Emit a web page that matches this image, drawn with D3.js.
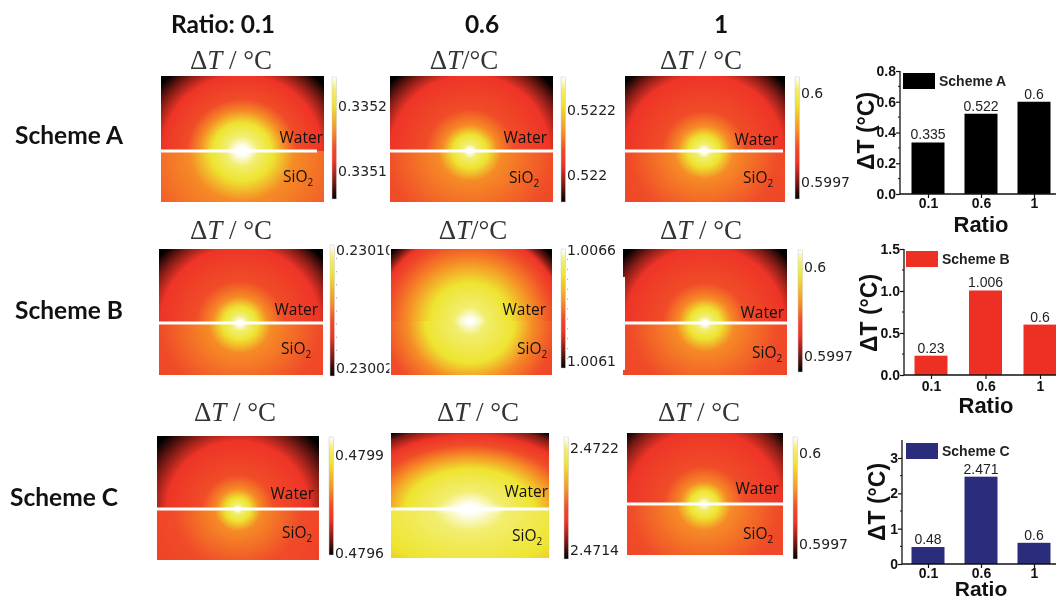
<!DOCTYPE html>
<html><head><meta charset="utf-8">
<script src="https://cdn.jsdelivr.net/npm/d3@7/dist/d3.min.js"></script>
<style>html,body{margin:0;padding:0;background:#fff;overflow:hidden}svg{display:block;filter:blur(0.35px)}</style>
</head><body><div id="c"></div>
<script>
// ---- data ----
const ratios = ["0.1","0.6","1"];
const schemes = ["Scheme A","Scheme B","Scheme C"];
const valuesA = [0.335,0.522,0.6];
const valuesB = [0.23,1.006,0.6];
const valuesC = [0.48,2.471,0.6];
const labelsA = ["0.335","0.522","0.6"];
const labelsB = ["0.23","1.006","0.6"];
const labelsC = ["0.48","2.471","0.6"];
const ticksA = ["0.0","0.2","0.4","0.6","0.8"];
const ticksB = ["0.0","0.5","1.0","1.5"];
const ticksC = ["0","1","2","3"];
const barColors = ["#000000","#ee3024","#2b2c7c"];
const cbarTicks = [
 ["0.3352","0.3351"],["0.5222","0.522"],["0.6","0.5997"],
 ["0.23010","0.23002"],["1.0066","1.0061"],["0.6","0.5997"],
 ["0.4799","0.4796"],["2.4722","2.4714"],["0.6","0.5997"]];
const titles = ["ΔT / °C","ΔT/°C","ΔT / °C","ΔT / °C","ΔT/°C","ΔT / °C","ΔT / °C","ΔT / °C","ΔT / °C"];
// colour ramp of the heat maps, low to high
const heatLevels = [0,0.14,0.3,0.42,0.55,0.78,0.9,1];
const heatColors = ["#000000","#7a1a14","#ee3427","#f04c28","#f68b26","#eee430","#f2ee70","#ffffff"];
// isotherm radius (in px) of each heat level, per panel, water / SiO2 side
const waterRadii = [
 [102,90,76,52,40,28,15,4],[102,90,76,42,26,16,7,2],[102,90,76,40,25,15,7,2],
 [102,90,76,42,26,16,8,2],[102,94,88,78,60,38,14,2],[102,90,76,40,25,15,7,2],
 [100,84,68,34,20,11,5,1],[90,84,74,64,54,40,18,4],[102,90,74,38,22,13,6,1]];
const silicaRadii = [
 [300,240,170,110,50,30,15,4],[300,240,150,80,30,17,7,2],[300,240,150,70,28,16,7,2],
 [300,240,140,75,30,17,8,2],[300,240,130,82,60,42,14,2],[300,240,150,70,28,16,7,2],
 [300,240,130,60,22,12,5,1],[300,240,200,130,95,60,22,4],[300,240,150,70,26,14,6,1]];
const hotStretch = [1.05,1.05,1.05, 1.05,1.05,1.05, 1.05,1.6,1.05];
// elongated white core size, per panel
const coreRx = [12,0,0,0,15,0,0,34,0];
const coreRy = [2.5,0,0,0,1.5,0,0,2.5,0];
// number of small dots beside each colour bar
const cbarDots = [0,0,0,9,11,0,0,0,0];

// ---- layout ----
const W=1056,H=599;
const panels = [
 {x:161,y:76,w:163,h:126,line:151,cx:242,lineEnd:317,bx:332,by:77,bh:122,t1:106,t2:171,tx:231,ty:60,wx:323,wy:143,sx:283,sy:182},
 {x:390,y:76,w:163,h:126,line:151,cx:470,lineEnd:553,bx:561,by:77,bh:125,t1:110,t2:175,tx:464,ty:60,wx:547,wy:143,sx:509,sy:183},
 {x:625,y:76,w:160,h:126,line:151,cx:704,lineEnd:783,bx:795,by:77,bh:122,t1:93,t2:182,tx:701,ty:60,wx:778,wy:145,sx:743,sy:183},
 {x:159,y:249,w:164,h:126,line:323,cx:240,lineEnd:323,bx:330,by:245,bh:131,t1:250,t2:368,tx:231,ty:230,wx:318,wy:315,sx:281,sy:354},
 {x:391,y:249,w:161,h:126,line:321,cx:470,lineEnd:null,bx:561,by:249,bh:119,t1:250,t2:361,tx:473,ty:230,wx:546,wy:315,sx:517,sy:354},
 {x:623,y:249,w:164,h:126,line:323,cx:705,lineEnd:787,bx:798,by:250,bh:122,t1:267,t2:356,tx:701,ty:230,wx:784,wy:318,sx:752,sy:358},
 {x:157,y:436,w:162,h:124,line:509,cx:238,lineEnd:319,bx:329,by:437,bh:118,t1:455,t2:553,tx:235,ty:412,wx:314,wy:499,sx:282,sy:538},
 {x:391,y:433,w:158,h:125,line:509,cx:470,lineEnd:549,bx:564,by:437,bh:122,t1:448,t2:550,tx:478,ty:412,wx:548,wy:497,sx:512,sy:541},
 {x:627,y:433,w:156,h:122,line:504,cx:704,lineEnd:783,bx:793,by:437,bh:122,t1:453,t2:544,tx:699,ty:412,wx:779,wy:494,sx:743,sy:539}];
const barPanels = [
 {vals:valuesA,labels:labelsA,ticks:ticksA,y0:194,yTop:71,max:0.8,ax:900,c0:928,c2:1034,lgy:73,lgx:903,ylx:874,yly:131,ry:232,rx:981,tickDy:0,axTop:71},
 {vals:valuesB,labels:labelsB,ticks:ticksB,y0:375,yTop:249,max:1.5,ax:904,c0:931,c2:1040,lgy:251,lgx:906,ylx:877,yly:313,ry:413,rx:986,tickDy:2,axTop:249},
 {vals:valuesC,labels:labelsC,ticks:ticksC,y0:564,yTop:458,max:3,ax:902,c0:928,c2:1034,lgy:443,lgx:906,ylx:885,yly:502,ry:596,rx:981,rs:21,tickDy:0,axTop:440}];

const svg=d3.select("#c").append("svg").attr("width",W).attr("height",H).attr("viewBox",`0 0 ${W} ${H}`);
const defs=svg.append("defs");
const f=defs.append("filter").attr("id","coreBlur").attr("x","-50%").attr("y","-200%").attr("width","200%").attr("height","500%");
f.append("feGaussianBlur").attr("stdDeviation",2);
defs.append("clipPath").attr("id","cut").append("rect").attr("x",300).attr("y",230).attr("width",89.5).attr("height",160);

const heat=d3.scaleLinear().domain(heatLevels).range(heatColors).interpolate(d3.interpolateRgb);

function radial(id,radii,cx,cy,stretch){
  const rMax=d3.max(radii);
  const off=d3.scaleLinear().domain([0,rMax]).range([0,1]);
  const g=defs.append("radialGradient").attr("id",id).attr("gradientUnits","userSpaceOnUse")
    .attr("cx",0).attr("cy",0).attr("r",rMax)
    .attr("gradientTransform",`translate(${cx},${cy}) scale(${stretch},1)`);
  const s=heatLevels.map((l,i)=>({o:off(radii[i]),c:heatColors[i]})).reverse();
  g.selectAll("stop").data(s).join("stop").attr("offset",d=>d.o).attr("stop-color",d=>d.c);
}

const cb=defs.append("linearGradient").attr("id","cbar").attr("x1",0).attr("x2",0).attr("y1",1).attr("y2",0);
cb.selectAll("stop").data(heatLevels).join("stop").attr("offset",d=>d).attr("stop-color",d=>heat(d));

// ---- heading text ----
const colHead=["Ratio: 0.1","0.6","1"], colHeadX=[223,482,721];
svg.selectAll("text.head").data(colHead).join("text").attr("class","head")
  .attr("x",(d,i)=>colHeadX[i]).attr("y",33).attr("text-anchor","middle")
  .attr("font-family","Lato").attr("font-weight",700).attr("font-size",24.5).attr("fill","#111").text(d=>d);
const rowX=[69,69,64], rowY=[144,319,506];
svg.selectAll("text.row").data(schemes).join("text").attr("class","row")
  .attr("x",(d,i)=>rowX[i]).attr("y",(d,i)=>rowY[i]).attr("text-anchor","middle")
  .attr("font-family","Lato").attr("font-weight",700).attr("font-size",24.5).attr("fill","#111").text(d=>d);

// ---- colour-bar tick labels first, so that panels sit over them ----
panels.forEach((p,i)=>{
  const g=svg.append("g");
  if(i===3) g.attr("clip-path","url(#cut)");
  [p.t1,p.t2].forEach((y,k)=>{
    g.append("text").attr("x",p.bx+6).attr("y",y+5)
      .attr("font-family","DejaVu Sans").attr("font-size",14).attr("fill","#222").text(cbarTicks[i][k]);
  });
});

// ---- heat panels ----
panels.forEach((p,i)=>{
  radial("w"+i,waterRadii[i],p.cx,p.line,hotStretch[i]);
  radial("s"+i,silicaRadii[i],p.cx,p.line,hotStretch[i]);
  const g=svg.append("g");
  g.append("rect").attr("x",p.x).attr("y",p.y).attr("width",p.w).attr("height",p.line-p.y).attr("fill",`url(#w${i})`);
  g.append("rect").attr("x",p.x).attr("y",p.line).attr("width",p.w).attr("height",p.y+p.h-p.line).attr("fill",`url(#s${i})`);
  if(coreRx[i]) svg.append("ellipse").attr("cx",p.cx).attr("cy",p.line).attr("rx",coreRx[i]).attr("ry",coreRy[i])
    .attr("fill","#fff").attr("filter","url(#coreBlur)");
  if(p.lineEnd) svg.append("rect").attr("x",p.x).attr("y",p.line-1.5).attr("width",p.lineEnd-p.x).attr("height",3).attr("fill","#fff");
  svg.append("text").attr("x",p.wx).attr("y",p.wy).attr("text-anchor","end")
    .attr("font-family","Open Sans").attr("font-size",15.5).attr("fill","#111").text("Water");
  const st=svg.append("text").attr("x",p.sx).attr("y",p.sy)
    .attr("font-family","Open Sans").attr("font-size",15.5).attr("fill","#111");
  st.append("tspan").text("SiO");
  st.append("tspan").attr("dy",4).attr("font-size",10).text("2");
  const parts=titles[i].split("T");
  const tt=svg.append("text").attr("x",p.tx).attr("y",p.ty+9).attr("text-anchor","middle")
    .attr("font-family","Liberation Serif").attr("font-size",27).attr("fill","#333");
  tt.append("tspan").text(parts[0]);
  tt.append("tspan").attr("font-style","italic").text("T");
  tt.append("tspan").text(parts[1]);
  svg.append("rect").attr("x",p.bx).attr("y",p.by).attr("width",4.5).attr("height",p.bh)
    .attr("fill","url(#cbar)").attr("stroke","#ccc").attr("stroke-width",0.5);
  svg.selectAll(null).data(d3.range(cbarDots[i])).join("rect")
    .attr("x",p.bx+6).attr("width",1).attr("height",1).attr("fill","#999")
    .attr("y",k=>p.by+(k+1)*p.bh/(cbarDots[i]+1));
});
// notch in the left edge of the Scheme B, ratio 1 panel
svg.append("rect").attr("x",panels[5].x).attr("y",277).attr("width",2).attr("height",93).attr("fill","#fff");

// ---- bar charts ----
barPanels.forEach((b,i)=>{
  const y=d3.scaleLinear().domain([0,b.max]).range([b.y0,b.yTop]);
  const x=d3.scalePoint().domain(ratios).range([b.c0,b.c2]);
  const g=svg.append("g").attr("font-family","Liberation Sans");
  g.selectAll("rect.bar").data(b.vals).join("rect").attr("class","bar")
    .attr("x",(d,k)=>x(ratios[k])-16.5).attr("width",33)
    .attr("y",d=>y(d)).attr("height",d=>y(0)-y(d)).attr("fill",barColors[i]);
  g.selectAll("text.val").data(b.vals).join("text").attr("class","val")
    .attr("x",(d,k)=>x(ratios[k])).attr("y",d=>y(d)-3).attr("text-anchor","middle")
    .attr("font-size",14).attr("fill","#222").text((d,k)=>b.labels[k]);
  const tickVals=b.ticks.map(Number);
  const yAxis=d3.axisLeft(y).tickValues(tickVals).tickFormat((d,k)=>b.ticks[k]).tickSize(4).tickPadding(0);
  const ya=g.append("g").attr("transform",`translate(${b.ax},0)`).call(yAxis);
  ya.selectAll("text").attr("font-family","Liberation Sans").attr("font-weight",700).attr("font-size",14).attr("fill","#111");
  ya.selectAll("line").attr("stroke","#111").attr("stroke-width",1.2);
  ya.select(".domain").remove();
  const minor=d3.pairs(tickVals).map(([a,c])=>(a+c)/2);
  g.selectAll("line.minor").data(minor).join("line").attr("class","minor")
    .attr("x1",b.ax-2).attr("x2",b.ax).attr("y1",d=>y(d)).attr("y2",d=>y(d)).attr("stroke","#111");
  g.append("line").attr("x1",b.ax).attr("x2",b.ax).attr("y1",b.axTop).attr("y2",b.y0).attr("stroke","#111").attr("stroke-width",1.3);
  const xAxis=d3.axisBottom(x).tickSize(4).tickPadding(b.tickDy);
  const xa=g.append("g").attr("transform",`translate(0,${b.y0})`).call(xAxis);
  xa.select(".domain").remove();
  xa.selectAll("text").attr("font-family","Liberation Sans").attr("font-weight",700).attr("font-size",14).attr("fill","#111");
  xa.selectAll("line").attr("stroke","#111").attr("stroke-width",1.2);
  g.append("line").attr("x1",b.ax).attr("x2",W).attr("y1",b.y0).attr("y2",b.y0).attr("stroke","#111").attr("stroke-width",1.3);
  g.append("rect").attr("x",b.lgx).attr("y",b.lgy).attr("width",32).attr("height",16).attr("fill",barColors[i]);
  g.append("text").attr("x",b.lgx+36).attr("y",b.lgy+13).attr("font-weight",700).attr("font-size",14).attr("fill","#222").text(schemes[i]);
  g.append("text").attr("transform",`translate(${b.ylx},${b.yly}) rotate(-90)`).attr("text-anchor","middle")
    .attr("font-weight",700).attr("font-size",23).attr("fill","#111").text("ΔT (°C)");
  g.append("text").attr("x",b.rx).attr("y",b.ry).attr("text-anchor","middle")
    .attr("font-weight",700).attr("font-size",b.rs||22).attr("fill","#111").text("Ratio");
});
</script></body></html>
